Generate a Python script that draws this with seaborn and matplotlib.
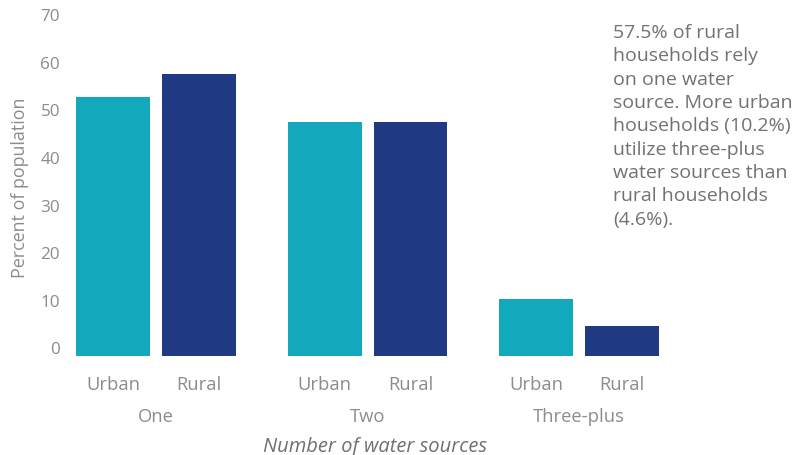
import matplotlib
matplotlib.use("Agg")
import matplotlib.pyplot as plt
import matplotlib.transforms as mtransforms
import seaborn as sns
import pandas as pd

# Share of households by number of water sources
groups = ["One", "Two", "Three-plus"]
areas = ["Urban", "Rural"]
urban_pct = [52.6, 47.4, 10.2]
rural_pct = [57.5, 47.4, 4.6]
y_ticks = [0, 10, 20, 30, 40, 50, 60, 70]
note = ("57.5% of rural\nhouseholds rely\non one water\nsource. More urban\n"
        "households (10.2%)\nutilize three-plus\nwater sources than\n"
        "rural households\n(4.6%).")

df = pd.DataFrame({
    "group": groups * 2,
    "area": ["Urban"] * 3 + ["Rural"] * 3,
    "pct": urban_pct + rural_pct,
})

sns.set_theme(style="white")
plt.rcParams["font.family"] = ["Open Sans", "DejaVu Sans"]

TEAL = "#13a9bd"
NAVY = "#1f3a83"
GREY = "#8c8c8c"
BASE = -1.8  # bars hang slightly below the zero line

W, H = 804, 456
fig = plt.figure(figsize=(W / 100, H / 100), dpi=100)
ax = fig.add_axes([67 / W, (H - 357) / H, (685 - 67) / W, (357 - 5.8) / H])

sns.barplot(data=df, x="group", y="pct", hue="area", order=groups,
            hue_order=areas, palette=[TEAL, NAVY], width=0.81, gap=0.14,
            saturation=1, legend=False, ax=ax)

for p in ax.patches:
    top = p.get_y() + p.get_height()
    p.set_y(BASE)
    p.set_height(top - BASE)
    p.set_linewidth(0)

ax.set_xlim(-0.42, 2.5)
ax.set_ylim(BASE, 72)
ax.set_xlabel("")
ax.set_ylabel("")
sns.despine(ax=ax, left=True, bottom=True)

ax.set_yticks(y_ticks)
ax.set_yticklabels([str(t) for t in y_ticks])
ax.tick_params(axis="y", length=0, pad=5, labelsize=12.3, labelcolor=GREY)

# bar-level tick labels (Urban / Rural) under each bar
centers = sorted(p.get_x() + p.get_width() / 2 for p in ax.patches)
ax.set_xticks(centers)
ax.set_xticklabels(areas * len(groups))
ax.tick_params(axis="x", length=0, pad=14, labelsize=13.2, labelcolor=GREY)

# group labels below
trans = mtransforms.blended_transform_factory(ax.transData, fig.transFigure)
for i, g in enumerate(groups):
    ax.text(i, (H - 417) / H, g, transform=trans, ha="center", va="center",
            fontsize=13.2, color=GREY)

fig.text(375 / W, (H - 447) / H, "Number of water sources", ha="center",
         va="center", fontsize=14.5, style="italic", color="#707070")
fig.text(20 / W, (H - 188) / H, "Percent of population", ha="center",
         va="center", rotation=90, fontsize=12.9, color=GREY)

fig.text(613 / W, (H - 24) / H, note, ha="left", va="top", fontsize=14,
         color="#727272", linespacing=1.38)

fig.savefig("out.png", dpi=100)
